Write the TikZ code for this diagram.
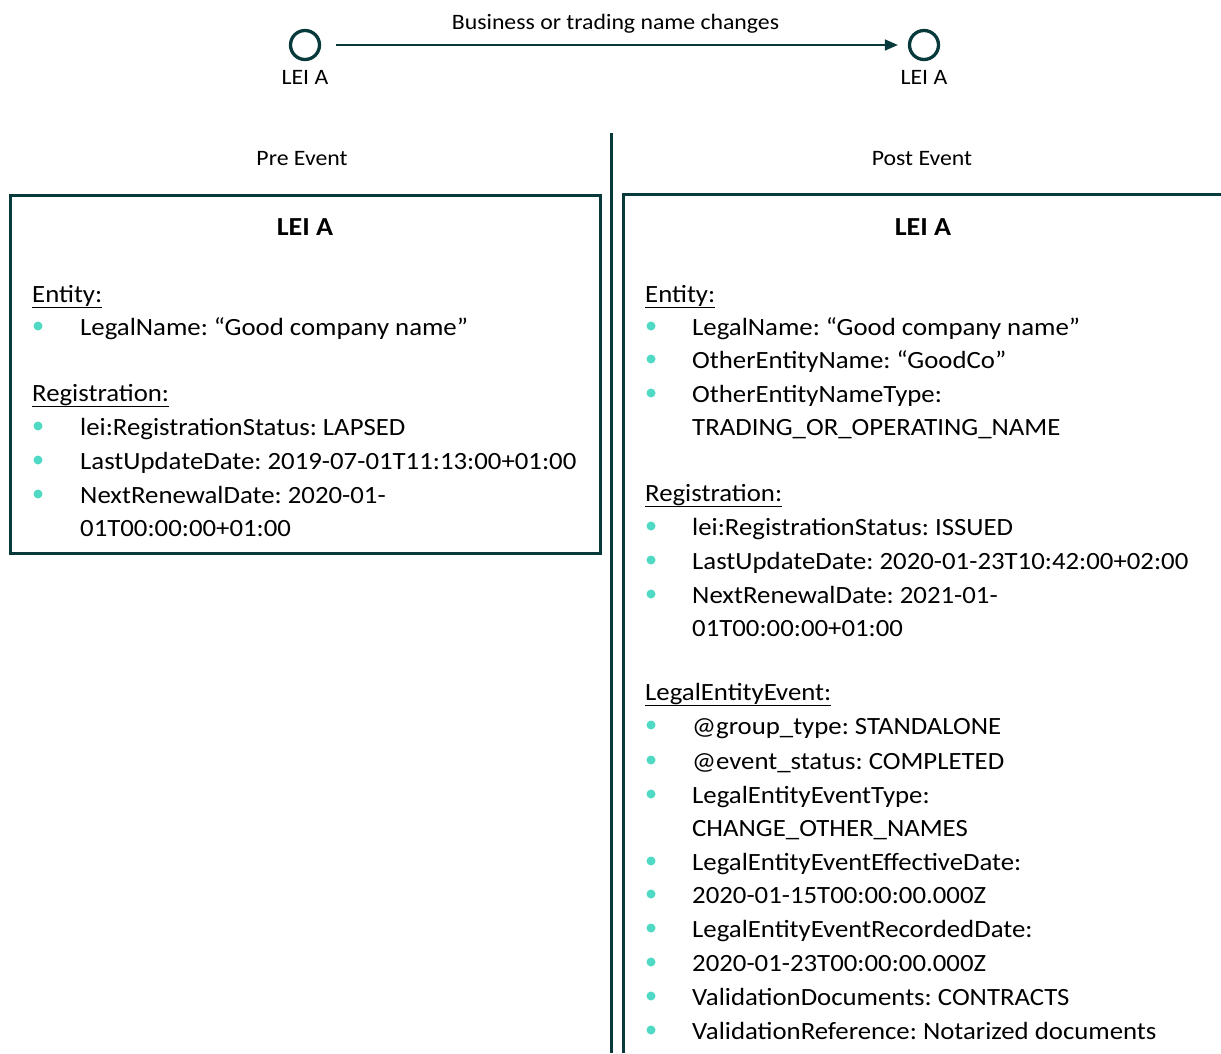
\documentclass[tikz,border=0pt]{standalone}
\usepackage{fontspec}
\setmainfont{Carlito}[FakeStretch=1.08]
\usetikzlibrary{arrows.meta}
\definecolor{teal}{RGB}{8,58,60}
\definecolor{bulletc}{RGB}{80,218,198}
\tikzset{
  body/.style={anchor=base west, inner sep=0pt, font=\fontsize{24.8}{28}\selectfont},
  small/.style={inner sep=0pt, font=\fontsize{22}{26}\selectfont},
  title/.style={inner sep=0pt, font=\fontsize{26}{30}\selectfont\bfseries},
  ring/.style={circle, draw=teal, line width=3.3pt, minimum size=29pt, inner sep=0pt},
  frame/.style={draw=teal, line width=3pt},
}
\newcommand{\bul}[2]{\fill[bulletc] (#1,#2) circle (4.5pt);}
\begin{document}
\frenchspacing
\begin{tikzpicture}[x=1pt,y=-1pt]
\useasboundingbox (0,0) rectangle (1221,1053);
% top
\node[ring] (c1) at (305,45) {};
\node[ring] (c2) at (924,45) {};
\node[small] (l1) at (305,77) {LEI A};
\node[small] (l2) at (924,77) {LEI A};
\draw[teal, line width=1.5pt, -{Triangle[length=13pt,width=11pt]}, shorten <=15pt, shorten >=10pt] (c1) -- (c2);
\node[small] (lbl) at (615.5,24) {Business or trading name changes};
% divider
\draw[frame] (611,133) -- (611,1053);
\node[small] (pre) at (302,159) {Pre Event};
\node[small] (post) at (922,159) {Post Event};
% left box
\draw[frame] (10,195) rectangle (600,553);
\node[title] (t1) at (305,227) {LEI A};
\def\bs{9}
\node[body] (le0) at (32,293+\bs) {\underline{Entity:}};
\bul{38}{326}\node[body] (le1) at (80,326+\bs) {LegalName: “Good company name”};
\node[body] (le3) at (32,392+\bs) {\underline{Registration:}};
\bul{38}{426}\node[body] (le4) at (80,426+\bs) {lei:RegistrationStatus: LAPSED};
\bul{38}{460}\node[body] (le5) at (80,460+\bs) {LastUpdateDate: 2019-07-01T11:13:00+01:00};
\bul{38}{494}\node[body] (le6) at (80,494+\bs) {NextRenewalDate: 2020-01-};
\node[body] (le7) at (80,527+\bs) {01T00:00:00+01:00};
% right box
\draw[frame] (623,1053) -- (623,194.5) -- (1221,194.5);
\node[title] (t2) at (923,227) {LEI A};
\node[body] (r0) at (645,293+\bs) {\underline{Entity:}};
\bul{651}{326}\node[body] (r1) at (692,326+\bs) {LegalName: “Good company name”};
\bul{651}{359}\node[body] (r2) at (692,359+\bs) {OtherEntityName: “GoodCo”};
\bul{651}{393}\node[body] (r3) at (692,393+\bs) {OtherEntityNameType:};
\node[body] (r4) at (692,426+\bs) {TRADING\_OR\_OPERATING\_NAME};
\node[body] (r6) at (645,492+\bs) {\underline{Registration:}};
\bul{651}{526}\node[body] (r7) at (692,526+\bs) {lei:RegistrationStatus: ISSUED};
\bul{651}{560}\node[body] (r8) at (692,560+\bs) {LastUpdateDate: 2020-01-23T10:42:00+02:00};
\bul{651}{594}\node[body] (r9) at (692,594+\bs) {NextRenewalDate: 2021-01-};
\node[body] (r10) at (692,627+\bs) {01T00:00:00+01:00};
\node[body] (r12) at (645,691+\bs) {\underline{LegalEntityEvent:}};
\bul{651}{725}\node[body] (r13) at (692,725+\bs) {@group\_type: STANDALONE};
\bul{651}{760}\node[body] (r14) at (692,760+\bs) {@event\_status: COMPLETED};
\bul{651}{794}\node[body] (r15) at (692,794+\bs) {LegalEntityEventType:};
\node[body] (r16) at (692,827+\bs) {CHANGE\_OTHER\_NAMES};
\bul{651}{861}\node[body] (r17) at (692,861+\bs) {LegalEntityEventEffectiveDate:};
\bul{651}{894}\node[body] (r18) at (692,894+\bs) {2020-01-15T00:00:00.000Z};
\bul{651}{928}\node[body] (r19) at (692,928+\bs) {LegalEntityEventRecordedDate:};
\bul{651}{962}\node[body] (r20) at (692,962+\bs) {2020-01-23T00:00:00.000Z};
\bul{651}{996}\node[body] (r21) at (692,996+\bs) {ValidationDocuments: CONTRACTS};
\bul{651}{1030}\node[body] (r22) at (692,1030+\bs) {ValidationReference: Notarized documents};
\end{tikzpicture}
\end{document}
